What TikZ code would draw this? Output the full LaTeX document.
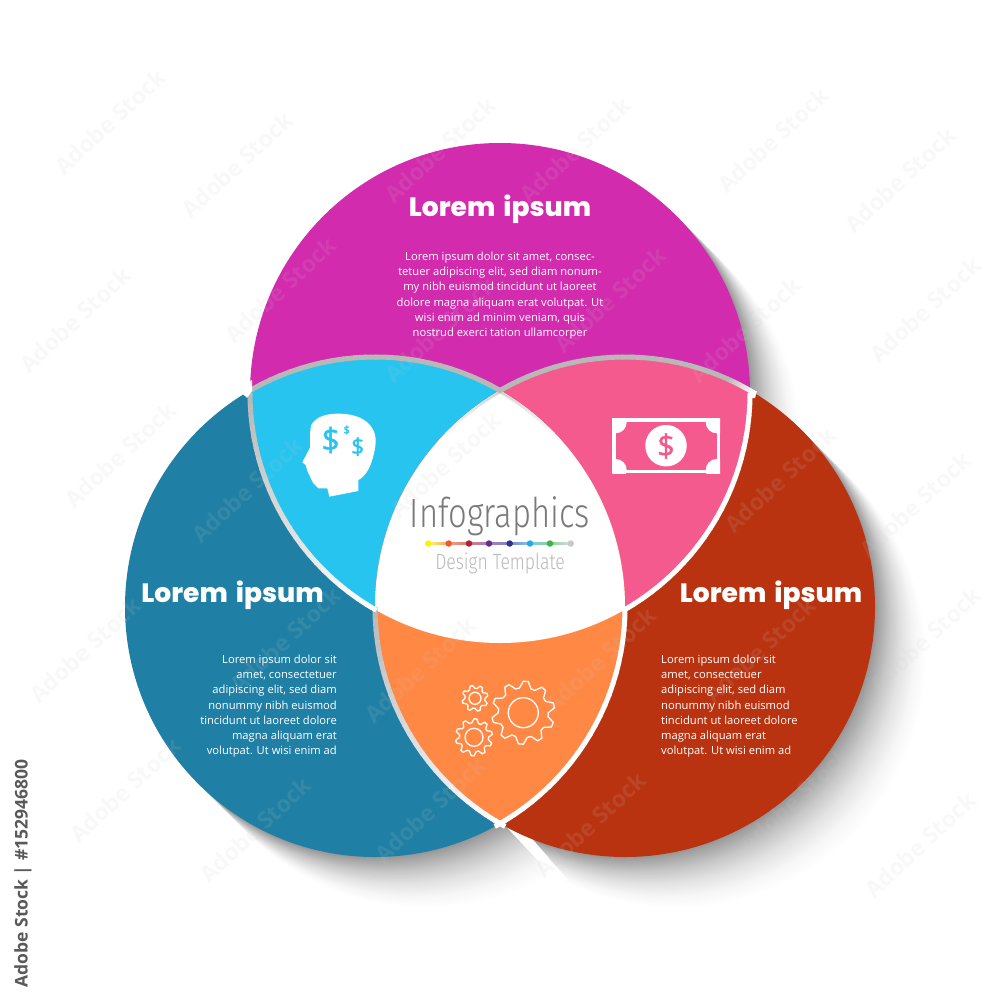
\documentclass[tikz,border=0pt]{standalone}
\usepackage{fontspec}
\usetikzlibrary{calc}
\setmainfont{Open Sans}
\newfontfamily\headfont{Poppins}[UprightFont=* ExtraBold]
\newfontfamily\thinfont{Fira Sans}[UprightFont=* Light,FakeStretch=0.8]
\newfontfamily\dollarfont{Open Sans}[FakeBold=1.2]
\definecolor{cmag}{HTML}{D22BAE}
\definecolor{cteal}{HTML}{1F7FA4}
\definecolor{cred}{HTML}{B93311}
\definecolor{ccyan}{HTML}{27C4F0}
\definecolor{cpink}{HTML}{F45A8E}
\definecolor{corange}{HTML}{FF8845}
\definecolor{cgrayarc}{HTML}{B8B8B8}
\definecolor{cgraysoft}{HTML}{D4D4D4}
\newcommand{\gradarc}[5]{%
  \foreach \k in {0,...,23}{%
    \pgfmathsetmacro{\aa}{#2+(#3-#2)*\k/24}%
    \pgfmathsetmacro{\ab}{#2+(#3-#2)*(\k+1.15)/24}%
    \pgfmathsetmacro{\mixp}{100*\k/23}%
    \colorlet{segcol}{#5!\mixp!#4}%
    \draw[arcline,draw=segcol] (#1) ++(\aa:250pt) arc[start angle=\aa,end angle=\ab,radius=250pt];%
  }%
}
\newcommand{\gearshape}[6]{% cx cy inner tip root teeth
  \pgfmathtruncatemacro{\gn}{4*#6}%
  \draw[gearline] plot[samples at={0,...,\gn}] ({#1+(mod(\x,4)<1.5?#5:#4)*cos(\x*360/\gn)},{#2+(mod(\x,4)<1.5?#5:#4)*sin(\x*360/\gn)}) -- cycle;%
  \draw[gearline] (#1,#2) circle[radius=#3pt];%
}
\newcommand{\wm}{(110,122),(237,165),(440,150),(575,150),(773,140),(900,180),(280,290),(610,300),(75,320),(440,330),(745,330),(925,310),(120,455),(247,490),(445,465),(780,480),(915,505),(85,650),(285,640),(925,640),(420,670),(600,660),(760,650),(125,790),(255,830),(430,810),(590,825),(795,800),(920,845)}
\tikzset{
  arcline/.style={line width=5pt,line cap=butt},
  gearline/.style={draw=white,line width=1.3pt,line join=miter},
  headtext/.style={text=white,font=\headfont\fontsize{26.5}{30}\selectfont,inner sep=0},
  bodytext/.style={text=white,font=\fontsize{11.2}{15.1}\selectfont,inner sep=0},
  dotmark/.style={circle,minimum size=6.5pt,inner sep=0},
  wmtext/.style={rotate=43,font=\bfseries\fontsize{23}{26}\selectfont,inner sep=0},
}
\begin{document}
\begin{tikzpicture}[x=1pt,y=-1pt]
\useasboundingbox (0,0) rectangle (1000,1000);
\fill[white] (0,0) rectangle (1000,1000);
\coordinate (T) at (500,393);
\coordinate (L) at (375,607);
\coordinate (R) at (625,607);
% long soft shadow
\foreach \i in {1,...,42}{
  \pgfmathsetmacro{\sh}{\i*1.3}
  \pgfmathsetmacro{\op}{0.0008+0.018*(1-\i/42)}
  \fill[black,opacity=\op] ($(T)+(\sh,\sh)$) circle[radius=250pt] ($(L)+(\sh,\sh)$) circle[radius=250pt] ($(R)+(\sh,\sh)$) circle[radius=250pt];
}
\fill[white] (498,818) -- (514,818) -- (568,880) -- (556,880) -- cycle;
% circles
\fill[cteal] (L) circle[radius=250pt];
\fill[cred] (R) circle[radius=250pt];
\fill[cmag] (T) circle[radius=250pt];
% lenses
\begin{scope}\clip (T) circle[radius=250pt]; \fill[ccyan] (L) circle[radius=250pt]; \end{scope}
\begin{scope}\clip (T) circle[radius=250pt]; \fill[cpink] (R) circle[radius=250pt]; \end{scope}
\begin{scope}\clip (L) circle[radius=250pt]; \fill[corange] (R) circle[radius=250pt]; \end{scope}
\begin{scope}\clip (T) circle[radius=250pt]; \clip (L) circle[radius=250pt]; \fill[white] (R) circle[radius=250pt]; \end{scope}
% bordering arcs
\gradarc{T}{0}{-60}{white}{white}
\gradarc{L}{0}{-61}{white}{white}
\gradarc{R}{180}{241}{cgrayarc}{white}
\gradarc{T}{180}{240}{cgrayarc}{white}
\begin{scope}\clip (T) circle[radius=250pt]; \clip (L) circle[radius=250pt]; \clip (R) circle[radius=250pt];
\gradarc{L}{60}{42}{cgraysoft}{white}
\gradarc{R}{120}{138}{cgraysoft}{white}
\end{scope}
\gradarc{L}{120}{60}{cgrayarc}{cgrayarc}
\gradarc{R}{120}{66}{cgrayarc}{cgrayarc}
\gradarc{R}{66}{59}{cgrayarc}{white}
\fill[white] (238,390) -- (252,380) -- (252,391) -- (247,398) -- (245,396) -- cycle;
\fill[white] (749.5,391) -- (757,391) -- (755,398) -- (749.5,398) -- cycle;
% watermark
\foreach \p in \wm { \node[wmtext,text=black!20,opacity=0.12] at \p {Adobe Stock}; }
% headings
\node[headtext] (h1) at (500,209) {Lorem\hspace{3pt} ipsum};
\node[headtext] (h2) at (232.5,595) {Lorem\hspace{3pt} ipsum};
\node[headtext] (h3) at (771,595) {Lorem\hspace{3pt} ipsum};
% body text
\node[bodytext,align=center,anchor=north] (b1) at (500,252) {Lorem ipsum dolor sit amet, consec-\\tetuer adipiscing elit, sed diam nonum-\\my nibh euismod tincidunt ut laoreet\\dolore magna aliquam erat volutpat. Ut\\wisi enim ad minim veniam, quis\\nostrud exerci tation ullamcorper};
\node[bodytext,align=right,anchor=north east] (b2) at (337,655) {Lorem ipsum dolor sit\\amet, consectetuer\\adipiscing elit, sed diam\\nonummy nibh euismod\\tincidunt ut laoreet dolore\\magna aliquam erat\\volutpat. Ut wisi enim ad};
\node[bodytext,align=left,anchor=north west] (b3) at (661,655) {Lorem ipsum dolor sit\\amet, consectetuer\\adipiscing elit, sed diam\\nonummy nibh euismod\\tincidunt ut laoreet dolore\\magna aliquam erat\\volutpat. Ut wisi enim ad};
% centre title
\node[text=black!52,font=\thinfont\fontsize{41}{44}\selectfont,inner sep=0] (title) at (500,516) {Infographics};
\node[text=black!27,font=\thinfont\fontsize{22}{24}\selectfont,inner sep=0] (sub) at (500,563) {Design Template};
\foreach \a/\b/\ca/\cb in {428.3/448.7/FFF200/F15A22,448.7/469/F15A22/B5202A,469/489/B5202A/662D91,489/509.7/662D91/2E3192,509.7/530/2E3192/27AAE1,530/550/27AAE1/39B54A,550/570.7/39B54A/C7C8CA}{
  \definecolor{ca}{HTML}{\ca}\definecolor{cb}{HTML}{\cb}
  \shade[left color=ca!60!white,right color=cb!60!white] (\a,542.5) rectangle (\b,544.5);
}
\foreach \n/\x/\c in {d1/428.3/FFF200,d2/448.7/F15A22,d3/469/B5202A,d4/489/662D91,d5/509.7/2E3192,d6/530/27AAE1,d7/550/39B54A,d8/570.7/C7C8CA}{
  \definecolor{dc}{HTML}{\c}
  \node[dotmark,fill=dc] (\n) at (\x,543.5) {};
}
% head icon
\begin{scope}[shift={(290,405)},scale=1/3]
\fill[white] (118,275) -- (205,258) -- (205,225)
  .. controls (225,215) and (240,190) .. (248,160)
  .. controls (258,125) and (262,95) .. (248,72)
  .. controls (232,42) and (195,27) .. (150,26)
  .. controls (110,25) and (75,35) .. (63,62)
  .. controls (58,85) and (62,110) .. (60,128)
  -- (37,172) -- (47,180) -- (53,200) -- (70,235) -- (85,250) -- (112,250) -- cycle;
\node[text=ccyan,font=\dollarfont\fontsize{32}{32}\selectfont,inner sep=0] (s1) at (122,105) {\$};
\node[text=ccyan,font=\dollarfont\fontsize{11}{11}\selectfont,inner sep=0] (s2) at (170,75) {\$};
\node[text=ccyan,font=\dollarfont\fontsize{23}{23}\selectfont,inner sep=0] (s3) at (203,125) {\$};
\end{scope}
% banknote icon
\fill[white] (612.3,418.3) rectangle (720,473.3);
\fill[cpink] (615.7,422.3) rectangle (716.7,470);
\begin{scope}
\clip (612.3,418.3) rectangle (720,473.3);
\foreach \x/\y in {615.7/422.3,716.7/422.3,615.7/470,716.7/470}{ \fill[white] (\x,\y) circle[radius=11pt]; }
\end{scope}
\node[circle,fill=white,minimum size=41.5pt,inner sep=0] (coin) at (666,445.7) {};
\node[text=cpink,font=\dollarfont\fontsize{31}{31}\selectfont,inner sep=0] (coins) at (666,446) {\$};
% gears
\gearshape{523.3}{712.7}{15}{31.5}{25}{10}
\gearshape{475}{698.3}{6}{13}{10}{8}
\gearshape{474}{737.3}{9}{18.5}{14.5}{10}
% stock line
\node[rotate=90,text=black!65,font=\fontsize{17.5}{20}\selectfont\bfseries,inner sep=0] (stock) at (23,873.5) {Adobe Stock | \#152946800};
\end{tikzpicture}
\end{document}
